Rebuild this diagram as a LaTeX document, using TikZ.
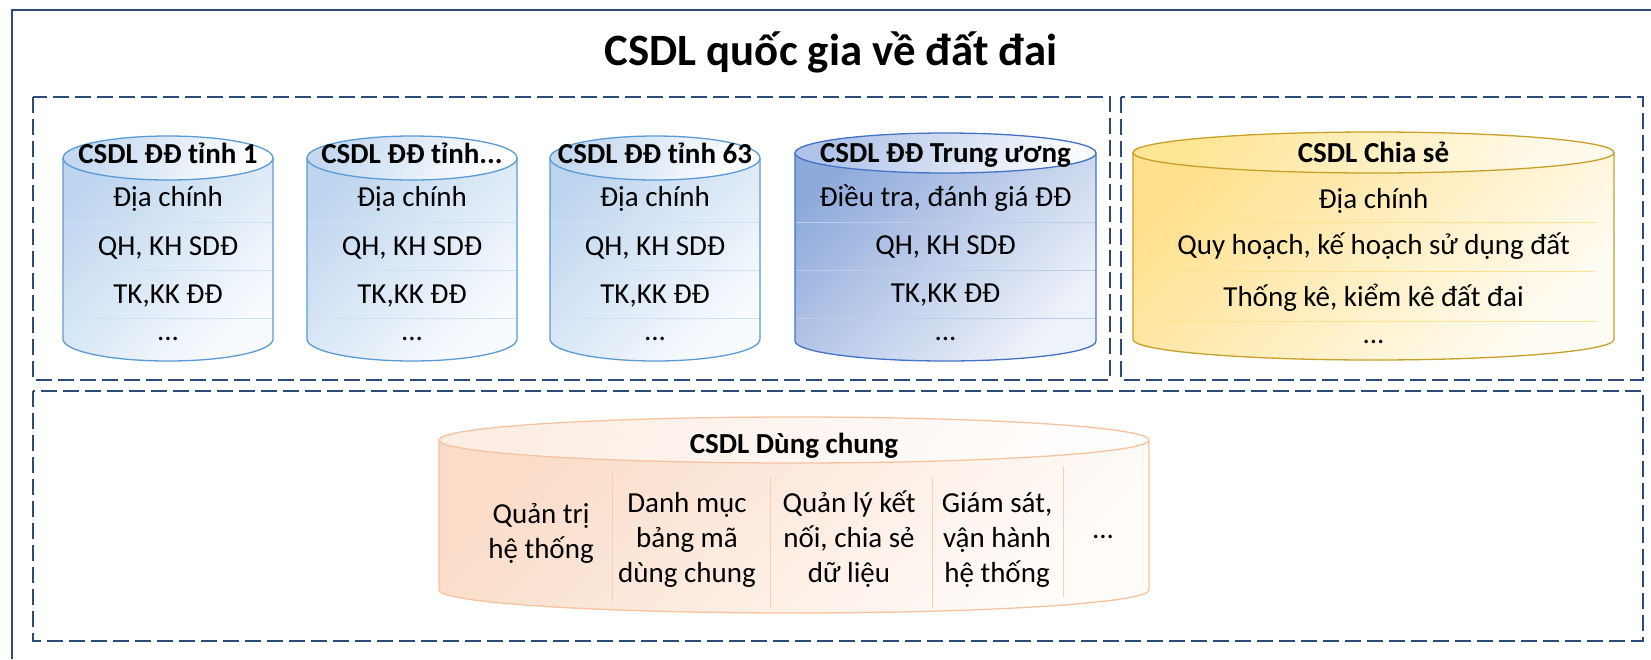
\documentclass[tikz,border=0pt]{standalone}
\usepackage{fontspec}
\setmainfont{Carlito}
\definecolor{navy}{HTML}{2E4A7D}
\definecolor{bA}{HTML}{BCD4EE}
\definecolor{bB}{HTML}{F8FBFE}
\definecolor{bTA}{HTML}{C4D9F0}
\definecolor{bTB}{HTML}{FFFFFF}
\definecolor{bEdge}{HTML}{5B9BD5}
\definecolor{bRow}{HTML}{CFE0F2}
\definecolor{dA}{HTML}{8EA9DB}
\definecolor{dB}{HTML}{EEF2FA}
\definecolor{dTA}{HTML}{AFC3E8}
\definecolor{dTB}{HTML}{F8FAFD}
\definecolor{dEdge}{HTML}{4472C4}
\definecolor{dRow}{HTML}{BCCDEC}
\definecolor{yA}{HTML}{FFE08C}
\definecolor{yB}{HTML}{FFFCF3}
\definecolor{yTA}{HTML}{FFE596}
\definecolor{yTB}{HTML}{FFFAEC}
\definecolor{yEdge}{HTML}{C9A02A}
\definecolor{yRow}{HTML}{FFE18F}
\definecolor{pA}{HTML}{FADCC8}
\definecolor{pB}{HTML}{FFFCFA}
\definecolor{pTA}{HTML}{FCEEE5}
\definecolor{pTB}{HTML}{FFFDFC}
\definecolor{pEdge}{HTML}{F6C3A0}
\definecolor{pRow}{HTML}{F8CFB3}
\newcommand\dbcan[8]{%
  \pgfmathsetmacro\dbrx{(#2-#1)/2}%
  \pgfmathsetmacro\dbcx{(#2+#1)/2}%
  \path[#6] (#1,#3) -- (#1,#4) arc[start angle=180,end angle=360,x radius=\dbrx pt,y radius=#5pt] -- (#2,#3) arc[start angle=0,end angle=180,x radius=\dbrx pt,y radius=#5pt] -- cycle;
  \path[#7] (\dbcx,#3) ellipse[x radius=\dbrx pt,y radius=#5pt];
  \draw[draw=#8,line width=1.3pt] (#1,#3) -- (#1,#4) arc[start angle=180,end angle=360,x radius=\dbrx pt,y radius=#5pt] -- (#2,#3);
  \draw[draw=#8,line width=1.3pt] (\dbcx,#3) ellipse[x radius=\dbrx pt,y radius=#5pt];
}
\begin{document}
\begin{tikzpicture}[x=1pt,y=-1pt,
  frameline/.style={draw=navy,line width=2pt},
  dbox/.style={draw=navy,line width=2pt,dash pattern=on 16pt off 6pt},
  body/.style={font=\fontsize{29}{35}\selectfont,anchor=base,inner sep=0pt},
  head/.style={font=\bfseries\fontsize{29}{35}\selectfont,anchor=base,inner sep=0pt},
  gradblue/.style={top color=bA,bottom color=bB,shading angle=45},
  gradbluetop/.style={top color=bTA,bottom color=bTB,shading angle=60},
  graddark/.style={top color=dA,bottom color=dB,shading angle=45},
  graddarktop/.style={top color=dTA,bottom color=dTB,shading angle=60},
  gradyel/.style={top color=yA,bottom color=yB,shading angle=45},
  gradyeltop/.style={top color=yTA,bottom color=yTB,shading angle=60},
  gradpeach/.style={top color=pA,bottom color=pB,shading angle=45},
  gradpeachtop/.style={top color=pTA,bottom color=pTB,shading angle=60},
]
\useasboundingbox (0,0) rectangle (1651,659);
\fill[white] (0,0) rectangle (1651,659);
% outer frame
\draw[frameline] (12,659) -- (12,10) -- (1651,10);
\node[font=\bfseries\fontsize{44.8}{50}\selectfont,anchor=base,inner sep=0pt] (title) at (831,65) {CSDL quốc gia về đất đai};
% dashed groups
\draw[dbox] (33,97) rectangle (1110,380);
\draw[dbox] (1121,97) rectangle (1643,380);
\draw[dbox] (33,391) rectangle (1643,641);
% cylinders
\dbcan{63}{273}{158}{339}{22}{gradblue}{gradbluetop}{bEdge}
\dbcan{307}{517}{158}{339}{22}{gradblue}{gradbluetop}{bEdge}
\dbcan{550}{760}{158}{339}{22}{gradblue}{gradbluetop}{bEdge}
\dbcan{795}{1096}{153}{341}{20}{graddark}{graddarktop}{dEdge}
\dbcan{1133}{1614}{152.5}{339.5}{20.5}{gradyel}{gradyeltop}{yEdge}
\dbcan{439}{1149}{440}{590}{23}{gradpeach}{gradpeachtop}{pEdge}
% row lines
\foreach \xa/\xb in {64/272,308/516,551/759}{
  \foreach \yy in {222,270,318}{\draw[bRow,line width=1pt] (\xa,\yy) -- (\xb,\yy);}
}
\foreach \yy in {222,270,318}{\draw[dRow,line width=1pt] (796,\yy) -- (1095,\yy);}
\draw[yRow,line width=1pt] (1167,222) -- (1596,222);
\draw[yRow,line width=1pt] (1164,271) -- (1594,271);
\draw[yRow,line width=1pt] (1167,321) -- (1596,321);
\draw[pRow,line width=1pt] (612,472) -- (612,602);
\draw[pRow,line width=1pt] (770,477) -- (770,608);
\draw[pRow,line width=1pt] (932,477) -- (932,608);
\draw[pRow,line width=1pt] (1063,467) -- (1063,597);
% cylinder 1
\node[head] (c1t) at (168,163) {CSDL ĐĐ tỉnh 1};
\node[body] (c1a) at (168,206) {Địa chính};
\node[body] (c1b) at (168,255) {QH, KH SDĐ};
\node[body] (c1c) at (168,303) {TK,KK ĐĐ};
\node[body] (c1d) at (168,340) {...};
% cylinder 2
\node[head] (c2t) at (412,163) {CSDL ĐĐ tỉnh...};
\node[body] (c2a) at (412,206) {Địa chính};
\node[body] (c2b) at (412,255) {QH, KH SDĐ};
\node[body] (c2c) at (412,303) {TK,KK ĐĐ};
\node[body] (c2d) at (412,340) {...};
% cylinder 3
\node[head] (c3t) at (655,163) {CSDL ĐĐ tỉnh 63};
\node[body] (c3a) at (655,206) {Địa chính};
\node[body] (c3b) at (655,255) {QH, KH SDĐ};
\node[body] (c3c) at (655,303) {TK,KK ĐĐ};
\node[body] (c3d) at (655,340) {...};
% cylinder 4
\node[head] (c4t) at (945.5,162) {CSDL ĐĐ Trung ương};
\node[body] (c4a) at (945.5,206) {Điều tra, đánh giá ĐĐ};
\node[body] (c4b) at (945.5,254) {QH, KH SDĐ};
\node[body] (c4c) at (945.5,302) {TK,KK ĐĐ};
\node[body] (c4d) at (945.5,340) {...};
% cylinder 5
\node[head] (c5t) at (1373.5,162) {CSDL Chia sẻ};
\node[body] (c5a) at (1373.5,208) {Địa chính};
\node[body] (c5b) at (1373.5,254) {Quy hoạch, kế hoạch sử dụng đất};
\node[body] (c5c) at (1373.5,306) {Thống kê, kiểm kê đất đai};
\node[body] (c5d) at (1373.5,343) {...};
% shared cylinder
\node[head] (c6t) at (794,453) {CSDL Dùng chung};
\node[body] (q1a) at (541,523) {Quản trị};
\node[body] (q1b) at (541,558) {hệ thống};
\node[body] (q2a) at (687,512) {Danh mục};
\node[body] (q2b) at (687,547) {bảng mã};
\node[body] (q2c) at (687,582) {dùng chung};
\node[body] (q3a) at (849,512) {Quản lý kết};
\node[body] (q3b) at (849,547) {nối, chia sẻ};
\node[body] (q3c) at (849,582) {dữ liệu};
\node[body] (q4a) at (997,512) {Giám sát,};
\node[body] (q4b) at (997,547) {vận hành};
\node[body] (q4c) at (997,582) {hệ thống};
\node[body] (q5) at (1103,538) {...};
\end{tikzpicture}
\end{document}
